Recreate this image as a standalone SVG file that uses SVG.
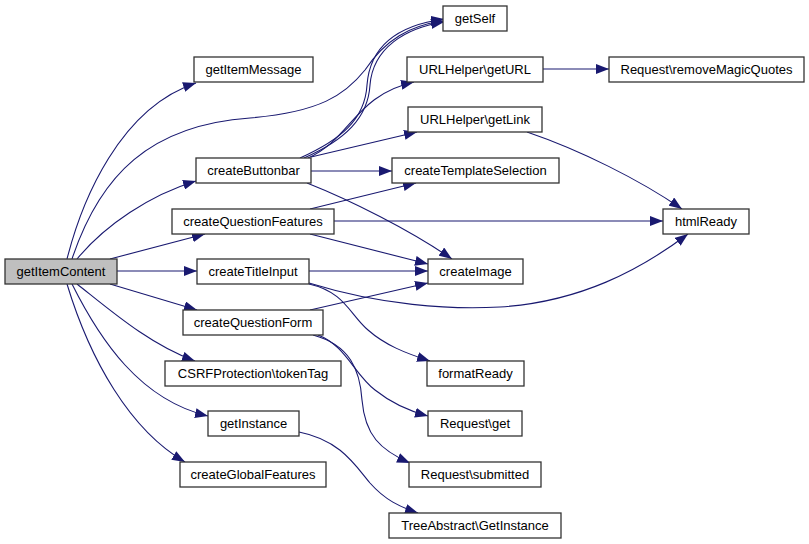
<svg xmlns="http://www.w3.org/2000/svg" width="809" height="544" viewBox="0 0 809 544">
<style>
.n rect{fill:#ffffff;stroke:#333333;stroke-width:1.3}
.n.root rect{fill:#bfbfbf}
.n text{font-family:"Liberation Sans",Arial,sans-serif;font-size:13px;fill:#000000;text-anchor:middle}
.e path{fill:none;stroke:#191970;stroke-width:1.1;marker-end:url(#ah)}
</style>
<defs>
<marker id="ah" markerUnits="userSpaceOnUse" markerWidth="14" markerHeight="10" refX="13" refY="5" orient="auto">
<path d="M0,0 L13,5 L0,10 z" fill="#191970"/>
</marker>
</defs>
<rect width="809" height="544" fill="#ffffff"/>
<g id="connectors" class="e">
<path d="M67,259 C82,200 120,108 196,83"/>
<path d="M72,259 C100,175 150,125 250,118 C320,112 345,95 365,70 C385,40 410,25 444,21"/>
<path d="M300,158 C340,140 365,120 367,85 C370,45 400,25 444,19"/>
<path d="M304,158 C345,140 368,118 370,85 C373,48 405,28 444,22"/>
<path d="M308,158 C350,140 355,95 414,82"/>
<path d="M311,157 L417,132"/>
<path d="M311,171 L392,171"/>
<path d="M307,183 C350,200 410,230 452,259"/>
<path d="M310,209 L416,183"/>
<path d="M334,221 L663,221"/>
<path d="M310,234 L428,264"/>
<path d="M77,259 C105,225 150,195 196,181"/>
<path d="M110,259 L205,234"/>
<path d="M117,271 L197,271"/>
<path d="M110,284 L197,310"/>
<path d="M77,284 C110,310 150,345 195,361"/>
<path d="M72,284 C100,340 140,400 208,416"/>
<path d="M67,284 C90,360 130,430 185,462"/>
<path d="M309,271 L428,271"/>
<path d="M309,283 C380,305 450,310 500,307 C580,302 640,270 688,234"/>
<path d="M309,284 C345,292 350,315 368,330 C385,345 405,353 430,361"/>
<path d="M310,310 L428,283"/>
<path d="M318,335 C345,345 355,375 375,390 C390,402 405,410 428,416"/>
<path d="M313,335 C350,345 360,370 362,400 C365,435 380,450 410,463"/>
<path d="M299,432 C340,440 355,465 370,483 C385,500 400,507 418,513"/>
<path d="M543,69 L609,69"/>
<path d="M527,132 C580,150 640,180 682,209"/>
</g>
<g id="getItemContent" class="n root"><rect x="5" y="259" width="112" height="25"/><text x="61" y="276">getItemContent</text></g>
<g id="getItemMessage" class="n"><rect x="194" y="57" width="119" height="25"/><text x="253.5" y="74">getItemMessage</text></g>
<g id="createButtonbar" class="n"><rect x="196" y="158" width="115" height="25"/><text x="253.5" y="175">createButtonbar</text></g>
<g id="createQuestionFeatures" class="n"><rect x="172" y="209" width="162" height="25"/><text x="253" y="226">createQuestionFeatures</text></g>
<g id="createTitleInput" class="n"><rect x="197" y="259" width="112" height="25"/><text x="253" y="276">createTitleInput</text></g>
<g id="createQuestionForm" class="n"><rect x="183" y="310" width="140" height="25"/><text x="253" y="327">createQuestionForm</text></g>
<g id="CSRFProtection_tokenTag" class="n"><rect x="165" y="361" width="176" height="25"/><text x="253" y="378">CSRFProtection\tokenTag</text></g>
<g id="getInstance" class="n"><rect x="208" y="411" width="91" height="25"/><text x="253.5" y="428">getInstance</text></g>
<g id="createGlobalFeatures" class="n"><rect x="180" y="462" width="146" height="25"/><text x="253" y="479">createGlobalFeatures</text></g>
<g id="getSelf" class="n"><rect x="443" y="6" width="64" height="25"/><text x="475" y="23">getSelf</text></g>
<g id="URLHelper_getURL" class="n"><rect x="407" y="57" width="136" height="25"/><text x="475" y="74">URLHelper\getURL</text></g>
<g id="Request_removeMagicQuotes" class="n"><rect x="609" y="57" width="195" height="25"/><text x="706.5" y="74">Request\removeMagicQuotes</text></g>
<g id="URLHelper_getLink" class="n"><rect x="408" y="107" width="134" height="25"/><text x="475" y="124">URLHelper\getLink</text></g>
<g id="createTemplateSelection" class="n"><rect x="392" y="158" width="167" height="25"/><text x="475.5" y="175">createTemplateSelection</text></g>
<g id="htmlReady" class="n"><rect x="663" y="209" width="86" height="25"/><text x="706" y="226">htmlReady</text></g>
<g id="createImage" class="n"><rect x="428" y="259" width="95" height="25"/><text x="475.5" y="276">createImage</text></g>
<g id="formatReady" class="n"><rect x="427" y="361" width="97" height="25"/><text x="475.5" y="378">formatReady</text></g>
<g id="Request_get" class="n"><rect x="428" y="411" width="94" height="25"/><text x="475" y="428">Request\get</text></g>
<g id="Request_submitted" class="n"><rect x="409" y="462" width="132" height="25"/><text x="475" y="479">Request\submitted</text></g>
<g id="TreeAbstract_GetInstance" class="n"><rect x="389" y="513" width="172" height="25"/><text x="475" y="530">TreeAbstract\GetInstance</text></g>
</svg>
